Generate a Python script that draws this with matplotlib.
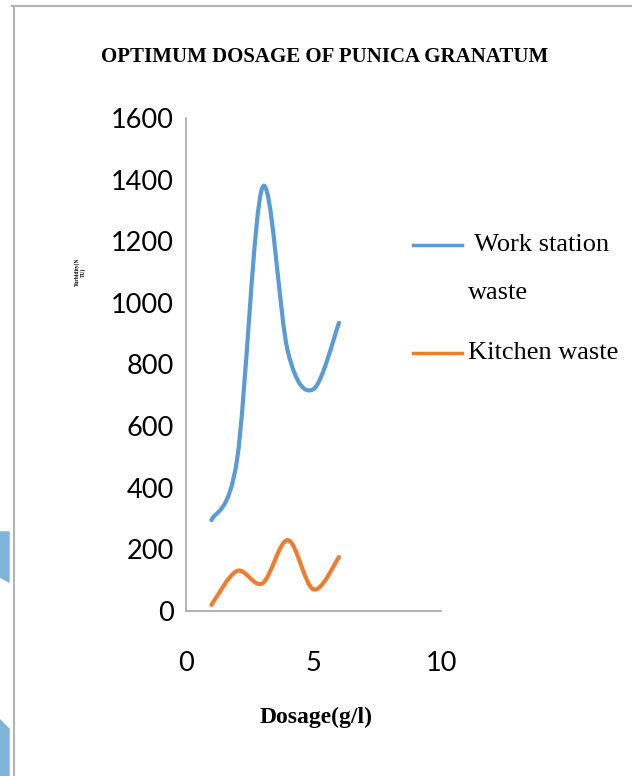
import matplotlib
matplotlib.use("Agg")
import matplotlib.pyplot as plt
from matplotlib.path import Path
from matplotlib.patches import PathPatch, Polygon
from matplotlib.lines import Line2D

dosage = [1, 2, 3, 4, 5, 6]
work_station = [295, 490, 1375, 840, 720, 935]
kitchen = [20, 130, 90, 230, 70, 175]
names = ["Work station", "Kitchen waste"]
colors = ["#5b9bd5", "#ed7d31"]

serif = ["Liberation Serif", "DejaVu Serif"]
sans = ["Lato", "DejaVu Sans"]


def smooth_path(xs, ys):
    # Excel style smoothed line: cubic bezier through the points
    pts = list(zip(xs, ys))
    verts = [pts[0]]
    codes = [Path.MOVETO]
    n = len(pts)
    for i in range(n - 1):
        p0 = pts[i - 1] if i > 0 else pts[i]
        p1 = pts[i]
        p2 = pts[i + 1]
        p3 = pts[i + 2] if i + 2 < n else pts[i + 1]
        c1 = (p1[0] + (p2[0] - p0[0]) / 6, p1[1] + (p2[1] - p0[1]) / 6)
        c2 = (p2[0] - (p3[0] - p1[0]) / 6, p2[1] - (p3[1] - p1[1]) / 6)
        verts += [c1, c2, p2]
        codes += [Path.CURVE4] * 3
    return Path(verts, codes)


def fx(px):
    return px / 632


def fy(py):
    return 1 - py / 776


fig = plt.figure(figsize=(6.32, 7.76), dpi=100)
ax = fig.add_axes([fx(186), fy(611), fx(441 - 186), (611 - 118) / 776])

for ys, c in zip([work_station, kitchen], colors):
    ax.add_patch(PathPatch(smooth_path(dosage, ys), facecolor="none",
                           edgecolor=c, lw=3, capstyle="round"))

ax.set_xlim(0, 10)
ax.set_ylim(0, 1600)
ax.set_xticks([0, 5, 10])
ax.set_yticks(range(0, 1601, 200))
ax.tick_params(length=0, labelsize=19.5)
ax.tick_params(axis="y", pad=9)
ax.tick_params(axis="x", pad=29)
for lab in ax.get_xticklabels() + ax.get_yticklabels():
    lab.set_family(sans)
for s in ["top", "right"]:
    ax.spines[s].set_visible(False)
for s in ["left", "bottom"]:
    ax.spines[s].set_color("#a6a6a6")
    ax.spines[s].set_linewidth(1.2)

fig.text(fx(325), fy(57), "OPTIMUM DOSAGE OF PUNICA GRANATUM",
         family=serif, weight="bold", fontsize=15, ha="center", va="center")
fig.text(fx(316), fy(717), "Dosage(g/l)", family=serif,
         weight="bold", fontsize=17, ha="center", va="center")
fig.text(fx(80), fy(272), "Turbidity(N\nTU)", family=serif,
         weight="bold", fontsize=4, rotation=90, ha="center", va="center")

# legend, drawn by hand so the line sits on the first text row
for c, name, ly in zip(colors, names, [245, 353]):
    fig.add_artist(Line2D([fx(413), fx(462)], [fy(ly), fy(ly)], color=c, lw=2.5))
    fig.text(fx(468), fy(ly), " " + name if c == colors[0] else name,
             family=serif, fontsize=19, ha="left", va="center")
fig.text(fx(468), fy(293), "waste", family=serif, fontsize=19,
         ha="left", va="center")

# slide frame and decorations
fig.add_artist(Line2D([fx(14), fx(14)], [0, fy(6)], color="#b4b4b4", lw=1.5))
fig.add_artist(Line2D([fx(12), 1], [fy(6), fy(6)], color="#b4b4b4", lw=1.5))
fig.add_artist(Polygon([(0, fy(532)), (fx(9), fy(532)), (fx(9), fy(582)),
                        (0, fy(577))], closed=True, color="#7fb3d9",
                       transform=fig.transFigure))
fig.add_artist(Polygon([(0, fy(720)), (fx(9), fy(729)), (fx(9), 0), (0, 0)],
                       closed=True, color="#7fb3d9", transform=fig.transFigure))

fig.savefig("out.png", dpi=100)
